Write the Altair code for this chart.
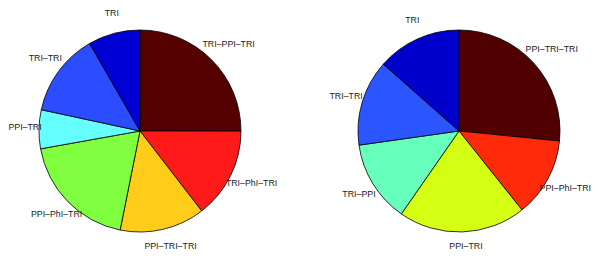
import altair as alt
import pandas as pd

# Left pie (clockwise from 12 o'clock)
left_labels = ["TRI–PPI–TRI", "TRI–PhI–TRI", "PPI–TRI–TRI", "PPI–PhI–TRI", "PPI–TRI", "TRI–TRI", "TRI"]
left_values = [25.0, 14.5, 13.6, 19.0, 6.2, 13.3, 8.3]
left_colors = ["#550000", "#ff1a1a", "#ffcc1a", "#80ff40", "#66ffff", "#2b4dff", "#0000d4"]

# Right pie (clockwise from 12 o'clock)
right_labels = ["PPI–TRI–TRI", "PPI–PhI–TRI", "PPI–TRI", "TRI–PPI", "TRI–TRI", "TRI"]
right_values = [26.6, 12.7, 20.4, 13.1, 13.75, 13.5]
right_colors = ["#500000", "#ff2a0a", "#d4ff14", "#66ffbb", "#2b55ff", "#0000cc"]


def frame(labels, values, colors):
    return pd.DataFrame({
        "label": labels,
        "value": values,
        "colour": colors,
        "idx": list(range(len(labels))),
    })


def pie(df, cx, cy, tdx, tdy, nudges):
    total = float(df["value"].sum())
    theta_scale = alt.Scale(domain=[0, total])
    base = alt.Chart(df).transform_window(
        cum="sum(value)", sort=[alt.SortField("idx")], frame=[None, 0]
    ).transform_calculate(
        start="datum.cum - datum.value",
        mid="datum.cum - datum.value / 2",
    )
    arcs = base.mark_arc(outerRadius=101, stroke="black", strokeWidth=0.8).encode(
        theta=alt.Theta("start:Q", scale=theta_scale),
        theta2="cum:Q",
        color=alt.Color("colour:N", scale=None),
        x=alt.value(cx), y=alt.value(cy),
    )
    text_props = dict(radius=121, fontSize=8.8, font="Liberation Sans", color="#1a1a1a")
    tenc = dict(
        theta=alt.Theta("mid:Q", scale=theta_scale),
        text="label:N",
        x=alt.value(cx + tdx), y=alt.value(cy + tdy),
    )
    names = list(nudges.keys())
    main = base.transform_filter(
        ~alt.FieldOneOfPredicate(field="label", oneOf=names)
    ).mark_text(**text_props).encode(**tenc)
    layers = [arcs, main]
    for name, (ddx, ddy) in nudges.items():
        layers.append(
            base.transform_filter(alt.datum.label == name)
            .mark_text(dx=ddx, dy=ddy, **text_props).encode(**tenc)
        )
    return layers


layers = pie(frame(left_labels, left_values, left_colors), 132, 123, 3, -1.5,
             {"PPI–TRI": (3, 0), "PPI–TRI–TRI": (0, -1)}) + \
         pie(frame(right_labels, right_values, right_colors), 451, 123, 3, -0.5,
             {"PPI–PhI–TRI": (-3, 0), "PPI–TRI": (0, -5)})

chart = alt.layer(*layers).resolve_scale(theta="independent").properties(
    width=584, height=243, padding=0,
    autosize=alt.AutoSizeParams(type="none"),
).configure_view(stroke=None)

chart.save("out.html", embed_options={"renderer": "svg", "actions": False})
